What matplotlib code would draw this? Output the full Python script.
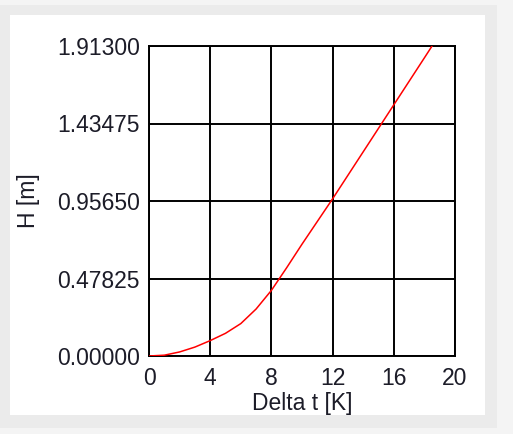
import matplotlib
matplotlib.use("Agg")
import matplotlib.pyplot as plt
from matplotlib.patches import Rectangle

# Data
delta_t = [0, 1, 2, 3, 4, 5, 6, 7, 8, 9, 10, 11, 12, 13, 14, 15, 16, 17, 18, 18.5]
height = [0.0, 0.005, 0.025, 0.055, 0.095, 0.14, 0.20, 0.29, 0.405, 0.545, 0.69,
          0.83, 0.97, 1.115, 1.26, 1.405, 1.55, 1.695, 1.84, 1.913]
x_ticks = [0, 4, 8, 12, 16, 20]
y_ticks = [0.0, 0.47825, 0.9565, 1.43475, 1.913]
y_tick_labels = ["0.00000", "0.47825", "0.95650", "1.43475", "1.91300"]

W, H = 513, 434
plt.rcParams['font.family'] = ['Liberation Sans', 'DejaVu Sans']
fig = plt.figure(figsize=(W / 100, H / 100), dpi=100)
fig.patch.set_facecolor('#f4f4f4')

# gray frame and white panel
fig.patches.append(Rectangle((0 / W, (H - 428) / H), 497 / W, (428 - 5) / H,
                             transform=fig.transFigure, facecolor='#ebebeb',
                             edgecolor='none', zorder=-2))
fig.patches.append(Rectangle((10 / W, (H - 415) / H), 475 / W, (415 - 15) / H,
                             transform=fig.transFigure, facecolor='white',
                             edgecolor='none', zorder=-1))

ax = fig.add_axes([149 / W, (H - 356) / H, (455 - 149) / W, (356 - 46) / H])
ax.set_zorder(2)
ax.set_facecolor('white')
ax.plot(delta_t, height, color='#ff0000', lw=1.1, zorder=3, clip_on=True)

ax.set_xlim(0, 20)
ax.set_ylim(0, 1.913)
ax.set_xticks(x_ticks)
ax.set_yticks(y_ticks)
ax.set_yticklabels(y_tick_labels)
ax.grid(True, color='black', lw=1.4)
ax.set_axisbelow(True)
for s in ax.spines.values():
    s.set_color('black')
    s.set_linewidth(1.4)

fs = 16.5
txt_color = '#1c1c28'
ax.tick_params(axis='both', length=0, labelsize=fs, labelcolor=txt_color)
ax.tick_params(axis='y', pad=6.5)
ax.tick_params(axis='x', pad=8)

ax.set_xlabel('Delta t [K]', fontsize=fs, color=txt_color)
ax.set_ylabel('H [m]', fontsize=fs, color=txt_color)
ax.xaxis.set_label_coords(0.5, -0.116)
ax.yaxis.set_label_coords(-0.356, 0.5)

fig.savefig('out.png', dpi=100, facecolor=fig.get_facecolor())
